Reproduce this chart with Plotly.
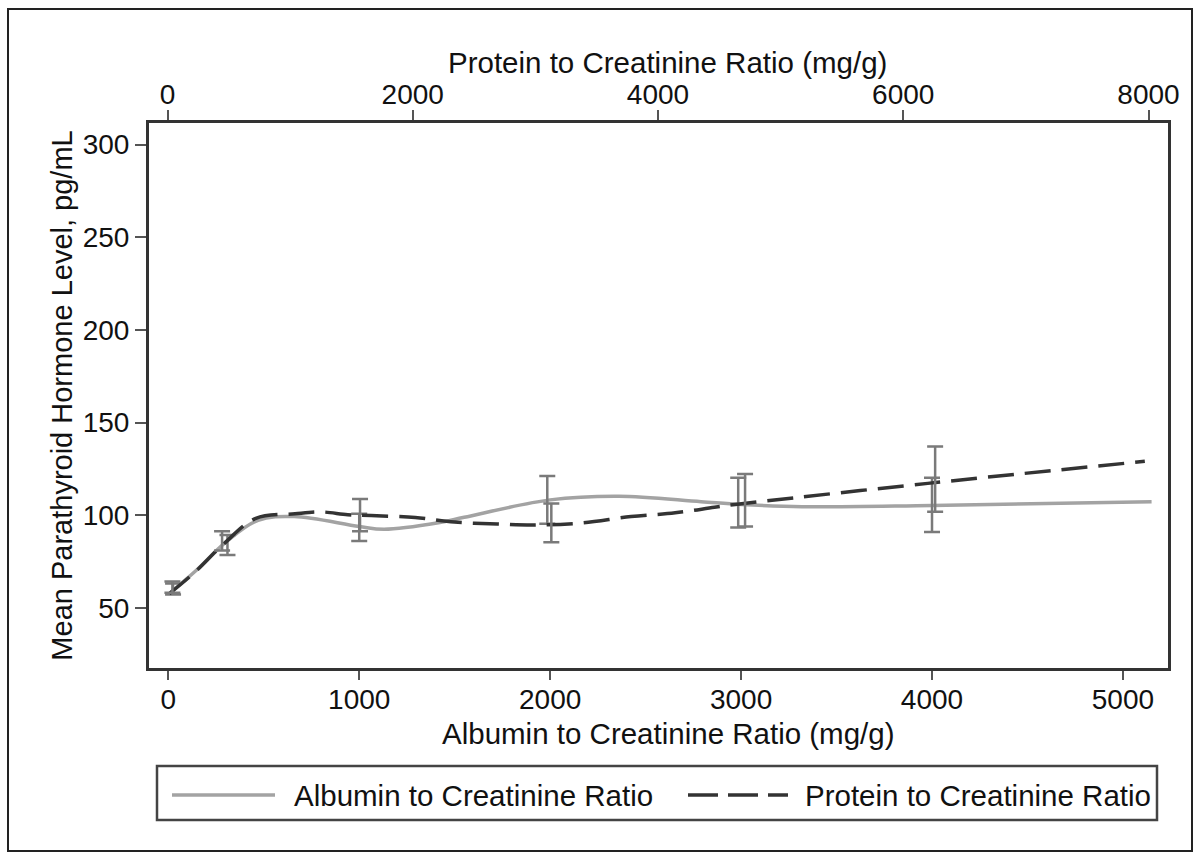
import plotly.graph_objects as go

# ---------------- data ----------------
# Albumin to Creatinine Ratio curve (bottom axis, mg/g) vs mean PTH (pg/mL)
acr_x = [10, 150, 300, 470, 660, 1000, 1130, 1415, 1550, 2000, 2360, 2790, 3000, 3320, 4000, 5150]
acr_y = [58.2, 70.6, 85.4, 97.3, 99.3, 93.9, 92.4, 95.9, 98.9, 108.3, 110.3, 107.3, 105.8, 104.6, 105.3, 107.3]

# Protein to Creatinine Ratio curve (top axis, mg/g) vs mean PTH (pg/mL)
pcr_x = [15, 220, 450, 720, 1040, 1250, 1470, 1660, 2020, 2340, 2690, 2990, 3370, 3780, 4140, 4460, 4630, 6200, 7970]
pcr_y = [57.7, 69.1, 84.0, 98.3, 100.8, 101.8, 100.3, 99.8, 98.8, 96.3, 95.3, 94.8, 95.8, 99.3, 101.3, 104.3, 105.8, 117.2, 129.1]

# Group means with 95% CI (error bars)
acr_grp_x = [25, 310, 1000, 1985, 2985, 4000]
acr_grp_mean = [60.2, 84.0, 93.4, 108.3, 106.8, 105.6]
acr_grp_lo = [57.2, 78.5, 86.1, 95.4, 93.4, 90.9]
acr_grp_hi = [63.2, 89.4, 100.8, 121.2, 120.2, 120.2]

pcr_grp_x = [40, 445, 1570, 3130, 4710, 6260]
pcr_grp_mean = [61.2, 86.3, 100.1, 95.9, 108.1, 119.4]
pcr_grp_lo = [58.2, 81.0, 91.4, 85.5, 93.9, 101.9]
pcr_grp_hi = [64.2, 91.4, 108.8, 106.3, 122.3, 137.1]

bottom_ticks = [0, 1000, 2000, 3000, 4000, 5000]
top_ticks = [0, 2000, 4000, 6000, 8000]
y_ticks = [50, 100, 150, 200, 250, 300]

series_names = ["Albumin to Creatinine Ratio", "Protein to Creatinine Ratio"]
x_title = "Albumin to Creatinine Ratio (mg/g)"
x2_title = "Protein to Creatinine Ratio (mg/g)"
y_title = "Mean Parathyroid Hormone Level, pg/mL"

# ---------------- layout constants ----------------
W, H = 1200, 859
ML, MR, MT, MB = 149, 32, 123, 191
FONT = "Liberation Sans, Arial, Helvetica, sans-serif"
FS_TICK = 28
FS_TITLE = 29.5
FS_YTITLE = 29
FS_LEG = 29.5
ALB_COLOR = "#a3a3a3"
PRO_COLOR = "#333333"
ERR_COLOR = "#7a7a7a"
TXT = "#111111"


def px2paper_x(px):
    return (px - ML) / (W - ML - MR)


def px2paper_y(py):
    return (H - MB - py) / (H - MT - MB)


fig = go.Figure()

fig.add_trace(go.Scatter(
    x=acr_x, y=acr_y, mode="lines", name=series_names[0],
    line=dict(color=ALB_COLOR, width=3.5, shape="spline", smoothing=1.0),
    xaxis="x", yaxis="y", showlegend=False,
))
fig.add_trace(go.Scatter(
    x=pcr_x, y=pcr_y, mode="lines", name=series_names[1],
    line=dict(color=PRO_COLOR, width=3.5, dash="26px,11px", shape="spline", smoothing=1.0),
    xaxis="x2", yaxis="y", showlegend=False,
))

fig.add_trace(go.Scatter(
    x=acr_grp_x, y=acr_grp_mean, mode="markers",
    marker=dict(size=1, color="rgba(0,0,0,0)"),
    error_y=dict(type="data", symmetric=False,
                 array=[h - m for h, m in zip(acr_grp_hi, acr_grp_mean)],
                 arrayminus=[m - l for m, l in zip(acr_grp_mean, acr_grp_lo)],
                 color=ERR_COLOR, thickness=2.5, width=8),
    xaxis="x", yaxis="y", showlegend=False, hoverinfo="skip",
))
fig.add_trace(go.Scatter(
    x=pcr_grp_x, y=pcr_grp_mean, mode="markers",
    marker=dict(size=1, color="rgba(0,0,0,0)"),
    error_y=dict(type="data", symmetric=False,
                 array=[h - m for h, m in zip(pcr_grp_hi, pcr_grp_mean)],
                 arrayminus=[m - l for m, l in zip(pcr_grp_mean, pcr_grp_lo)],
                 color=ERR_COLOR, thickness=2.5, width=8),
    xaxis="x2", yaxis="y", showlegend=False, hoverinfo="skip",
))

axis_common = dict(
    showgrid=False, zeroline=False, showline=True, linecolor="#333333", linewidth=3,
    ticks="outside", tickwidth=2, tickcolor="#555555",
    tickfont=dict(family=FONT, size=FS_TICK, color=TXT),
)

fig.update_layout(
    width=W, height=H,
    margin=dict(l=ML, r=MR, t=MT, b=MB, pad=0),
    paper_bgcolor="white", plot_bgcolor="white",
    font=dict(family=FONT, size=FS_TICK, color=TXT),
    xaxis=dict(
        range=[-101, 5236], tickvals=bottom_ticks, ticktext=[str(v) for v in bottom_ticks],
        ticklen=9, ticklabelstandoff=-5,
        **axis_common,
    ),
    xaxis2=dict(
        range=[-151, 8159], tickvals=top_ticks, ticktext=[str(v) for v in top_ticks],
        overlaying="x", side="top", anchor="y", ticklen=10, ticklabelstandoff=-5,
        **axis_common,
    ),
    yaxis=dict(
        range=[17.6, 311.6], tickvals=y_ticks, ticktext=[str(v) for v in y_ticks],
        mirror=True, tickangle=0, ticklen=11,
        title=dict(text=y_title, standoff=2,
                   font=dict(family=FONT, size=FS_YTITLE, color=TXT)),
        **axis_common,
    ),
    showlegend=False,
)

shapes = []
# outer frame
shapes.append(dict(type="rect", xref="paper", yref="paper",
                   x0=px2paper_x(8), x1=px2paper_x(1192), y0=px2paper_y(851), y1=px2paper_y(9),
                   line=dict(color="#222222", width=2), fillcolor="rgba(0,0,0,0)", layer="below"))
# legend box
shapes.append(dict(type="rect", xref="paper", yref="paper",
                   x0=px2paper_x(157), x1=px2paper_x(1157), y0=px2paper_y(820), y1=px2paper_y(766),
                   line=dict(color="#444444", width=2.5), fillcolor="white"))
# legend samples
shapes.append(dict(type="line", xref="paper", yref="paper",
                   x0=px2paper_x(172), x1=px2paper_x(275), y0=px2paper_y(795), y1=px2paper_y(795),
                   line=dict(color=ALB_COLOR, width=3.5)))
shapes.append(dict(type="line", xref="paper", yref="paper",
                   x0=px2paper_x(688), x1=px2paper_x(788), y0=px2paper_y(795), y1=px2paper_y(795),
                   line=dict(color=PRO_COLOR, width=3.5, dash="30px,10px")))
fig.update_layout(shapes=shapes)

annotations = [
    dict(text=series_names[0], xref="paper", yref="paper", x=px2paper_x(292), y=px2paper_y(795),
         xanchor="left", yanchor="middle", showarrow=False,
         font=dict(family=FONT, size=FS_LEG, color=TXT)),
    dict(text=series_names[1], xref="paper", yref="paper", x=px2paper_x(803), y=px2paper_y(795),
         xanchor="left", yanchor="middle", showarrow=False,
         font=dict(family=FONT, size=FS_LEG, color=TXT)),
    # axis titles
    dict(text=x_title, xref="paper", yref="paper", x=px2paper_x(668), y=px2paper_y(733),
         xanchor="center", yanchor="middle", showarrow=False,
         font=dict(family=FONT, size=FS_TITLE, color=TXT)),
    dict(text=x2_title, xref="paper", yref="paper", x=px2paper_x(667), y=px2paper_y(62),
         xanchor="center", yanchor="middle", showarrow=False,
         font=dict(family=FONT, size=FS_TITLE, color=TXT)),
]
fig.update_layout(annotations=annotations)

fig.write_html("out.html")
